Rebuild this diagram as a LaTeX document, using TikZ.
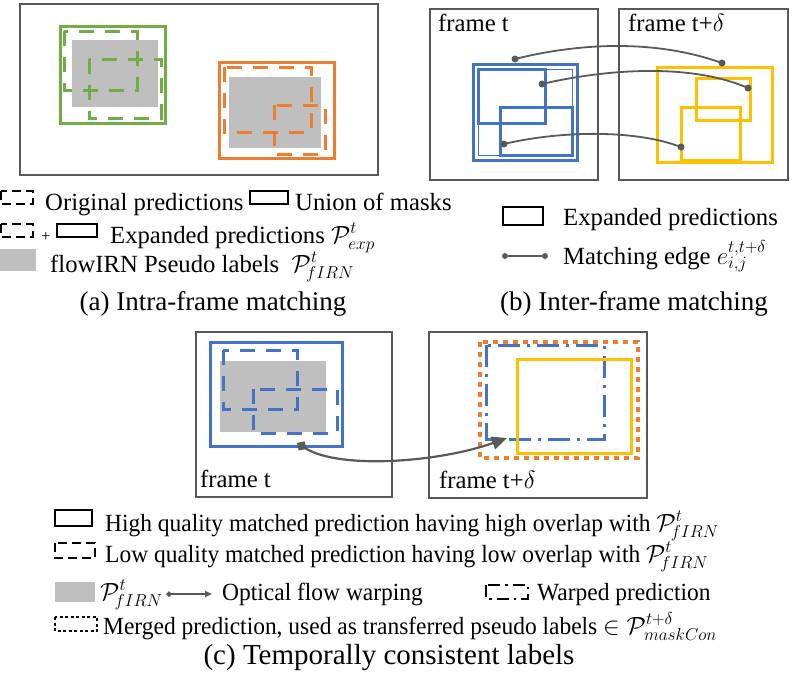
\documentclass[tikz,border=0pt]{standalone}
\usepackage{fontspec}
\setmainfont{Liberation Serif}
\newfontfamily\condfont[FakeStretch=0.95]{Liberation Serif}
\usetikzlibrary{arrows.meta}
\definecolor{cgreen}{HTML}{70AD47}
\definecolor{corange}{HTML}{ED7D31}
\definecolor{cblue}{HTML}{4472C4}
\definecolor{cyellow}{HTML}{FFC000}
\definecolor{cfill}{HTML}{BFBFBF}
\definecolor{cline}{HTML}{595959}
\newcommand\mathsz[1]{{\fontsize{24}{26}\selectfont #1}}
\newcommand\myPf{\mathsz{$\mathcal{P}^{t}_{\!fIRN}$}}
\begin{document}
\begin{tikzpicture}[x=1pt,y=-1pt,
  panel/.style={draw=cline,line width=1.3pt},
  solidbox/.style={line width=3pt},
  dashbox/.style={line width=3pt,dash pattern=on 15pt off 11pt},
  lab/.style={inner sep=0pt,anchor=base west,font=\fontsize{24.7}{28}\selectfont},
  labc/.style={inner sep=0pt,anchor=base west,font=\condfont\fontsize{24.7}{28}\selectfont},
  capt/.style={inner sep=0pt,anchor=base,font=\fontsize{27}{30}\selectfont},
  dotnode/.style={circle,fill=cline,inner sep=0pt,minimum size=7pt},
  match/.style={draw=cline,line width=1.8pt},
  icon/.style={draw=black,line width=2.5pt},
  icondash/.style={icon,dash pattern=on 9pt off 5pt},
  icondot/.style={icon,dash pattern=on 3pt off 2.5pt},
  icondashdot/.style={icon,dash pattern=on 12pt off 5pt on 2.5pt off 5pt},
  flow/.style={draw=cline,line width=2.2pt,{Diamond[length=11pt,width=11pt]}-{Triangle[length=15pt,width=13pt]}},
  flowicon/.style={draw=cline,line width=1.8pt,{Diamond[length=6pt,width=6pt]}-{Triangle[length=7pt,width=6pt]}},
]
\useasboundingbox (0,0) rectangle (797,672);

% ---------------- panel (a)
\draw[panel] (20,4) rectangle (378,175);
\fill[cfill] (72,40) rectangle (158,107);
\draw[cgreen,solidbox] (60,26) rectangle (165,123);
\draw[cgreen,dashbox] (64,31) rectangle (137,90);
\draw[cgreen,dashbox] (89,59) rectangle (161,118);
\fill[cfill] (229,77) rectangle (321,148);
\draw[corange,solidbox] (219,62) rectangle (334,158);
\draw[corange,dashbox] (224,67) rectangle (311,132);
\draw[corange,dashbox] (274,105) rectangle (325,154);

% legend (a)
\draw[icondash] (1,191) rectangle (33,204);
\node[lab] (la1) at (45,210) {Original predictions};
\draw[icon] (250,191) rectangle (288,204);
\node[lab] (la2) at (295,210) {Union of masks};
\draw[icondash] (1,224) rectangle (33,237);
\node[inner sep=0pt,anchor=base,font=\fontsize{16}{18}\selectfont] (plus) at (46,241) {+};
\draw[icon] (57,224) rectangle (97,237);
\node[lab] (la3) at (110,243) {Expanded predictions \mathsz{$\mathcal{P}^{t}_{exp}$}};
\fill[cfill] (0,249) rectangle (36,271);
\node[lab] (la4) at (50,272) {flowIRN Pseudo labels \ \myPf};
\node[capt] (capa) at (213,310) {(a) Intra-frame matching};

% ---------------- panel (b)
\draw[panel] (430,9) rectangle (598,180);
\draw[panel] (619,9) rectangle (788,180);
\node[lab] (ft1) at (438,31) {frame t};
\node[lab] (ft2) at (628,31) {frame t+$\delta$};
\draw[cblue,solidbox] (473,64) rectangle (577,160);
\draw[cblue,line width=1pt] (478,69) rectangle (572,155);
\draw[cblue,solidbox] (478,69) rectangle (545,123);
\draw[cblue,solidbox] (500,107) rectangle (572,155);
\draw[cyellow,solidbox] (657,67) rectangle (772,162);
\draw[cyellow,solidbox] (696,78) rectangle (750,120);
\draw[cyellow,solidbox] (681,107) rectangle (740,160);
\node[dotnode] (s1) at (515,59) {};
\node[dotnode] (t1) at (722,63) {};
\node[dotnode] (s2) at (542,84) {};
\node[dotnode] (t2) at (748,88) {};
\node[dotnode] (s3) at (504,144) {};
\node[dotnode] (t3) at (681,147) {};
\draw[match] (s1.center) .. controls +(60,-15) and +(-70,-25) .. (t1.center);
\draw[match] (s2.center) .. controls +(60,-14) and +(-60,-26) .. (t2.center);
\draw[match] (s3.center) .. controls +(50,-12) and +(-50,-19) .. (t3.center);

% legend (b)
\draw[icon] (503,207) rectangle (543,225);
\node[lab] (lb1) at (563,225) {Expanded predictions};
\node[dotnode,minimum size=6pt] (ls) at (505,256) {};
\node[dotnode,minimum size=6pt] (lt) at (545,256) {};
\draw[match] (ls) -- (lt);
\node[lab] (lb2) at (563,264) {Matching edge \mathsz{$e^{t,t+\delta}_{i,j}$}};
\node[capt] (capb) at (634,310) {(b) Inter-frame matching};

% ---------------- panel (c)
\draw[panel] (196,332) rectangle (392,497);
\draw[panel] (429,332) rectangle (647,498);
\fill[cfill] (220,361) rectangle (326,432);
\draw[cblue,solidbox] (210,342) rectangle (342,446);
\draw[cblue,dashbox] (223,350) rectangle (297,409);
\draw[cblue,dashbox] (253,389) rectangle (337,433);
\node[lab] (fc1) at (200,487) {frame t};
\draw[corange,line width=4.5pt,dash pattern=on 5pt off 5pt] (480,342) rectangle (638,458);
\draw[cblue,line width=3pt,dash pattern=on 22pt off 7pt on 3pt off 7pt] (486,345) rectangle (604,439);
\draw[cyellow,solidbox] (517,359) rectangle (631,453);
\node[lab] (fc2) at (439,488) {frame t+$\delta$};
\coordinate (fs) at (297,443);
\coordinate (fe) at (507,438);
\draw[flow] (fs) .. controls +(43,27) and +(-67,24) .. (fe);

% legend (c)
\draw[icon] (55,510) rectangle (92,526);
\node[labc] (lc1) at (105,531) {High quality matched prediction having high overlap with \myPf};
\draw[icondash] (55,543) rectangle (95,558);
\node[labc] (lc2) at (105,562) {Low quality matched prediction having low overlap with \myPf};
\fill[cfill] (55,582) rectangle (95,602);
\node[labc] (lc3) at (100,600) {\myPf};
\coordinate (ia) at (166,594);
\coordinate (ib) at (212,594);
\draw[flowicon] (ia) -- (ib);
\node[labc] (lc4) at (222,600) {Optical flow warping};
\draw[icondashdot] (486,585) rectangle (528,599);
\node[labc] (lc5) at (537,600) {Warped prediction};
\draw[icondot] (55,617) rectangle (97,631);
\node[labc] (lc6) at (103,634) {Merged prediction, used as transferred pseudo labels \mathsz{$\in \mathcal{P}^{t+\delta}_{maskCon}$}};
\node[capt,font=\fontsize{29}{32}\selectfont] (capc) at (389,664) {(c) Temporally consistent labels};
\end{tikzpicture}
\end{document}
